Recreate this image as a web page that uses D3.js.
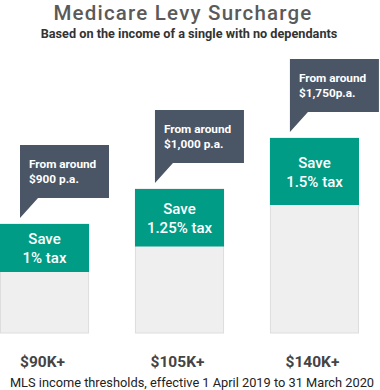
<!DOCTYPE html>
<html><head><meta charset="utf-8">
<script src="https://cdn.jsdelivr.net/npm/d3@7"></script>
<style>body{margin:0;background:#fff}svg{display:block}text{font-family:Roboto,"DejaVu Sans",sans-serif}</style>
</head><body>
<svg id="c" width="380" height="390"></svg>
<script>
const thresholds = ["$90K+", "$105K+", "$140K+"];
const barLevels = [109, 144, 195];          // relative bar heights
const taxRates = [1, 1.25, 1.5];             // % saved
const rateLabels = ["1% tax", "1.25% tax", "1.5% tax"];
const surcharge = ["$900 p.a.", "$1,000 p.a.", "$1,750p.a."];

const svg = d3.select("#c");
const baseY = 333;
const y = d3.scaleLinear().domain([0, 200]).range([baseY, baseY - 200]);
const band = d3.scaleLinear().domain([1, 1.5]).range([48, 67]);
const x = d3.scaleBand().domain(thresholds).range([0, 359]).paddingInner(0.34).paddingOuter(0);

svg.append("text").attr("x", 183).attr("y", 19.5).attr("text-anchor", "middle")
  .attr("font-size", 20.5).attr("letter-spacing", 1.2).attr("fill", "#5a5a5a").attr("font-weight", 500).text("Medicare Levy Surcharge");
svg.append("text").attr("x", 189).attr("y", 38).attr("text-anchor", "middle")
  .attr("font-size", 12.7).attr("fill", "#333").attr("font-weight", 700).text("Based on the income of a single with no dependants");

const g = svg.selectAll("g.bar").data(thresholds).join("g").attr("class", "bar");
g.append("rect")
  .attr("x", d => x(d) + 0.5).attr("width", x.bandwidth() - 1)
  .attr("y", (d, i) => y(barLevels[i])).attr("height", (d, i) => baseY - y(barLevels[i]))
  .attr("fill", "#efefef").attr("stroke", "#dddddd");
g.append("rect")
  .attr("x", d => x(d)).attr("width", x.bandwidth())
  .attr("y", (d, i) => y(barLevels[i])).attr("height", (d, i) => band(taxRates[i]))
  .attr("fill", "#009c86");
g.append("text").attr("text-anchor", "middle").attr("fill", "#fff").attr("font-size", 15).attr("font-weight", 500)
  .attr("x", d => x(d) + x.bandwidth() / 2)
  .attr("y", (d, i) => y(barLevels[i]) + band(taxRates[i]) / 2 - 4)
  .text("Save");
g.append("text").attr("text-anchor", "middle").attr("fill", "#fff").attr("font-size", 15).attr("font-weight", 500)
  .attr("x", d => x(d) + x.bandwidth() / 2)
  .attr("y", (d, i) => y(barLevels[i]) + band(taxRates[i]) / 2 + 15)
  .text((d, i) => rateLabels[i]);

// callouts
g.append("path").attr("fill", "#4a5565")
  .attr("d", (d, i) => {
    const x0 = x(d) + 20, top = y(barLevels[i]) - 79, w = 89, h = 53;
    const tip = y(barLevels[i]) - 6;
    return `M${x0},${top}H${x0 + w}V${top + h}H${x0 + 18}L${x0},${tip}Z`;
  });
g.append("text").attr("fill", "#fff").attr("font-size", 11.8).attr("font-weight", 700)
  .attr("x", d => x(d) + 29).attr("y", (d, i) => y(barLevels[i]) - 56).text("From around");
g.append("text").attr("fill", "#fff").attr("font-size", 11.8).attr("font-weight", 700)
  .attr("x", d => x(d) + 29).attr("y", (d, i) => y(barLevels[i]) - 41).text((d, i) => surcharge[i]);

g.append("text").attr("text-anchor", "middle").attr("fill", "#444").attr("font-size", 15.5).attr("font-weight", 700)
  .attr("x", d => x(d) + x.bandwidth() / 2 - 2).attr("y", 367).text(d => d);

svg.append("text").attr("x", 192).attr("y", 387).attr("text-anchor", "middle")
  .attr("font-size", 12.8).attr("fill", "#222").text("MLS income thresholds, effective 1 April 2019 to 31 March 2020");
</script>
</body></html>
